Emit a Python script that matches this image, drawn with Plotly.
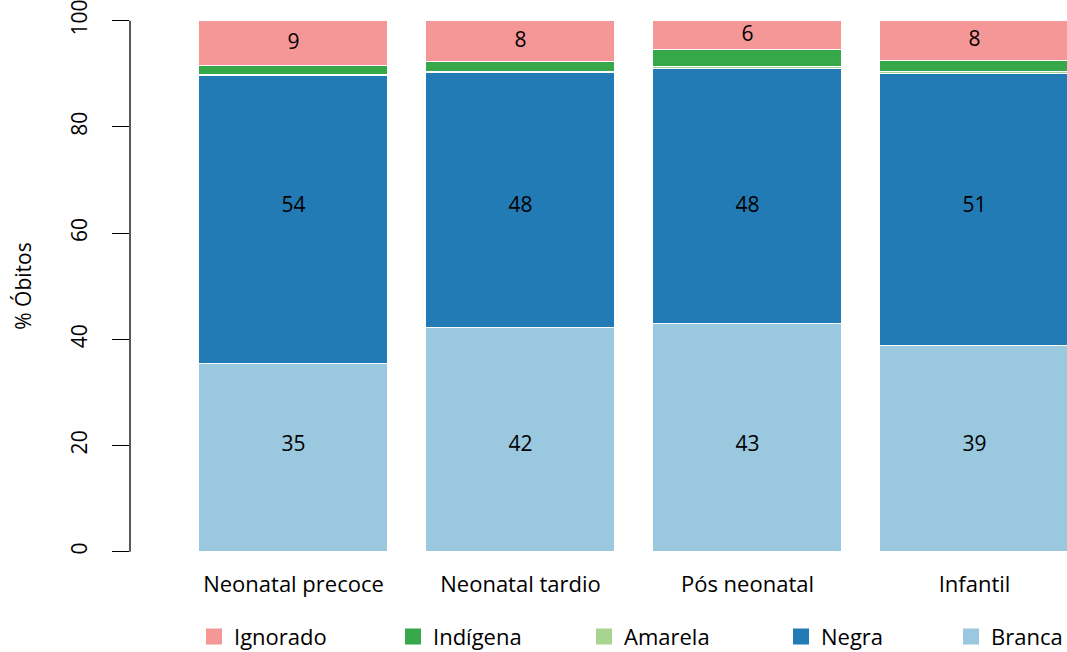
import plotly.graph_objects as go

categories = ["Neonatal precoce", "Neonatal tardio", "Pós neonatal", "Infantil"]
# stacked bottom -> top
branca = [35.3, 42.1, 42.9, 38.7]
negra = [54.2, 48.1, 48.0, 51.3]
amarela = [0.2, 0.2, 0.3, 0.3]
indigena = [1.7, 1.8, 3.2, 2.1]
ignorado = [8.6, 7.8, 5.6, 7.6]

series = [
    ("Branca", branca, "#9AC8DE"),
    ("Negra", negra, "#227BB5"),
    ("Amarela", amarela, "#A7D58F"),
    ("Indígena", indigena, "#37A84A"),
    ("Ignorado", ignorado, "#F59797"),
]
legend_widths = {"Ignorado": 154, "Indígena": 146, "Amarela": 152, "Negra": 125, "Branca": 75}

FONT = "Open Sans"
FS = 21
fig = go.Figure()
for name, vals, col in series:
    fig.add_trace(go.Bar(
        x=categories, y=vals, name=name, showlegend=False,
        marker=dict(color=col, line=dict(color="white", width=1.5)),
        width=0.83, hoverinfo="skip",
    ))

# value labels: Branca / Negra at a common height, Ignorado centred in its segment
mean_b = sum(branca) / len(branca)
mean_n = sum(negra) / len(negra)
lab_x, lab_y, lab_t = [], [], []
for i, c in enumerate(categories):
    lab_x += [c, c, c]
    lab_y += [mean_b / 2, mean_b + mean_n / 2, 100 - ignorado[i] / 2]
    lab_t += [f"{round(branca[i])}", f"{round(negra[i])}", f"{round(ignorado[i])}"]
fig.add_trace(go.Scatter(x=lab_x, y=lab_y, text=lab_t, mode="text", showlegend=False,
                         textfont=dict(color="black", size=FS, family=FONT),
                         hoverinfo="skip"))

# legend entries (order as in reference legend)
for name, vals, col in reversed(series):
    fig.add_trace(go.Scatter(
        x=[None], y=[None], mode="markers", name=name,
        marker=dict(symbol="square", size=16, color=col),
        legendwidth=legend_widths[name],
    ))

fig.add_shape(type="line", xref="paper", yref="y", x0=0, x1=0, y0=0, y1=100,
              line=dict(color="black", width=1.3))

fig.update_layout(
    width=1067, height=652,
    margin=dict(l=130, r=0, t=0, b=80, autoexpand=False),
    barmode="stack", bargap=0,
    plot_bgcolor="white", paper_bgcolor="white",
    font=dict(family=FONT, size=FS, color="black"),
    legend=dict(orientation="h", x=0.0683, xanchor="left", y=-0.113, yanchor="middle",
                entrywidthmode="pixels", traceorder="normal",
                font=dict(size=22, family=FONT)),
    xaxis=dict(range=[-0.7203, 3.4075], showline=False, showgrid=False, zeroline=False,
               ticks="", tickfont=dict(size=22), automargin=False, ticklabelstandoff=-3),
    yaxis=dict(range=[-3.82, 103.9], showline=False, showgrid=False, zeroline=False,
               tickvals=[0, 20, 40, 60, 80, 100], ticks="outside", ticklen=17,
               tickwidth=1.3, tickcolor="black", tickangle=-90, ticklabelstandoff=17,
               ticklabeloverflow="allow",
               tickfont=dict(size=FS), automargin=False,
               title=dict(text="% Óbitos", standoff=27, font=dict(size=FS))),
)
fig.write_html("out.html", config={"displayModeBar": False},
               post_script="document.body.style.margin='0';document.body.style.overflow='hidden';")
